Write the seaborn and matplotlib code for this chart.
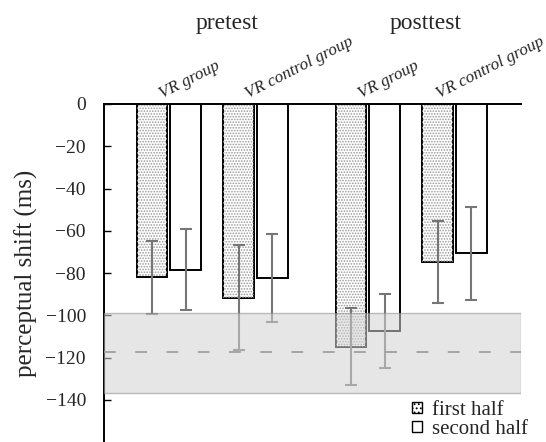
import numpy as np
import pandas as pd
import matplotlib
matplotlib.use("Agg")
import matplotlib.pyplot as plt
from matplotlib.patches import Rectangle, Patch
import matplotlib.transforms as mtransforms
import seaborn as sns

# ---- data ----
tests = ["pretest", "posttest"]
groups = ["VR group", "VR control group", "VR group", "VR control group"]
group_test = [0, 0, 1, 1]
halves = ["first half", "second half"]
first_half = [-82.0, -91.6, -114.8, -74.8]
second_half = [-78.4, -82.4, -107.5, -70.6]
first_err = [17.3, 24.9, 18.1, 19.2]
second_err = [19.0, 20.7, 17.4, 22.0]
band_low, band_high, band_mean = -136.9, -98.7, -117.6
yticks = [0, -20, -40, -60, -80, -100, -120, -140]

# ---- style ----
sns.set_style("white")
plt.rcParams["font.family"] = ["Liberation Serif", "DejaVu Serif"]
plt.rcParams["lines.scale_dashes"] = False
plt.rcParams["hatch.linewidth"] = 0.8

fig = plt.figure(figsize=(5.46, 4.42), dpi=100)
ax = fig.add_axes([104 / 546, 0.0, (521 - 104) / 546, 1 - 104 / 442])

test_gap = 0.3
pos = [i + test_gap * t for i, t in enumerate(group_test)]

df = pd.DataFrame({
    "pos": pos * 2,
    "value": first_half + second_half,
    "half": [halves[0]] * 4 + [halves[1]] * 4,
})

sns.barplot(data=df, x="pos", y="value", hue="half", hue_order=halves,
            native_scale=True, width=0.776, gap=0.09,
            palette=["white", "white"], edgecolor="black", linewidth=1.4,
            errorbar=None, legend=False, ax=ax, zorder=2)

# stipple on first-half bars
for p in ax.containers[0]:
    r = Rectangle(p.get_xy(), p.get_width(), p.get_height(), fill=False,
                  hatch="......", edgecolor="#9a9a9a", linewidth=0, zorder=2.1)
    ax.add_patch(r)

# error bars
for cont, vals, errs in zip(ax.containers, [first_half, second_half],
                            [first_err, second_err]):
    xs = [p.get_x() + p.get_width() / 2 for p in cont]
    ax.errorbar(xs, vals, yerr=errs, fmt="none", ecolor="#767676",
                elinewidth=1.5, capsize=4, capthick=1.5, zorder=3)

# reference band
ax.axhspan(band_low, band_high, facecolor="#d2d2d2", alpha=0.55,
           edgecolor="#8c8c8c", linewidth=1.0, zorder=4)
ax.axhline(band_mean, color="#a0a0a0", linewidth=1.3,
           linestyle=(0, (8.5, 14)), zorder=5)

ax.set_xlim(-0.751, 4.069)
ax.set_ylim(-160, 0)
ax.set_yticks(yticks)
ax.set_yticklabels([f"{v}".replace("-", "\u2212") for v in yticks])
ax.tick_params(axis="y", direction="in", length=5, width=1, color="black",
               labelsize=14, pad=13, left=True)
ax.tick_params(axis="x", bottom=False, top=False, labelbottom=False)
ax.set_xlabel("")
ax.set_ylabel("perceptual shift (ms)", fontsize=18, labelpad=5)

for s in ["bottom", "right"]:
    ax.spines[s].set_visible(False)
for s in ["top", "left"]:
    ax.spines[s].set_visible(True)
    ax.spines[s].set_color("black")
    ax.spines[s].set_linewidth(1.4)

# group labels (rotated, italic)
trans = mtransforms.blended_transform_factory(ax.transData, ax.transAxes)
label_shift = [-0.06, -0.06, -0.06, -0.16]
for x, g, dx in zip(pos, groups, label_shift):
    ax.text(x + dx, 1.005, g, transform=trans, rotation=27,
            rotation_mode="anchor", ha="left", va="bottom",
            fontsize=12.3, style="italic")

# test labels
for t, name in enumerate(tests):
    xs = [p for p, gt in zip(pos, group_test) if gt == t]
    xc = np.mean(xs) + 0.17
    ax.text(xc, 1 + 81 / 338, name, transform=trans, ha="center",
            va="center", fontsize=17)

handles = [Patch(facecolor="white", edgecolor="black", hatch="....", linewidth=1),
           Patch(facecolor="white", edgecolor="black", linewidth=1)]
ax.legend(handles, halves, loc="lower left",
          bbox_to_anchor=(408 / 546, -0.003), bbox_transform=fig.transFigure,
          frameon=False, fontsize=15, handlelength=0.45, handleheight=0.45,
          handletextpad=0.5, labelspacing=0.0, borderpad=0.2, borderaxespad=0)

fig.savefig("out.png", dpi=100)
